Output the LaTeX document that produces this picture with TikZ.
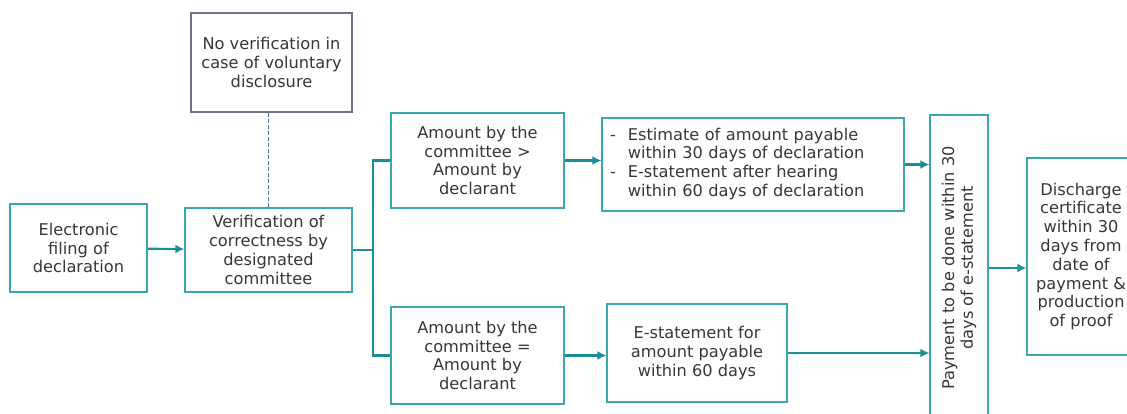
\documentclass[tikz,border=0pt]{standalone}
\usepackage{fontspec}
\setmainfont{DejaVu Sans}
\usetikzlibrary{arrows.meta,calc}
\definecolor{BoxClr}{RGB}{58,166,174}
\definecolor{LinkClr}{RGB}{26,143,154}
\definecolor{NoteClr}{RGB}{107,117,133}
\definecolor{DashClr}{RGB}{70,125,140}
\definecolor{TxtClr}{RGB}{55,55,55}

\begin{document}
\begin{tikzpicture}[x=1pt,y=-1pt,
  box/.style={draw=BoxClr,line width=1.2pt,fill=white,align=center,
    text=TxtClr,inner sep=3pt,font=\fontsize{16.2}{18.8}\selectfont},
  note/.style={box,draw=NoteClr},
  link/.style={draw=LinkClr,line width=2.2pt},
  arr/.style={link,-{Latex[length=9pt,width=9pt]}}]
\useasboundingbox (0,0) rectangle (1127,413);
\clip (0,0) rectangle (1127,413);

\node[box,minimum width=137pt,minimum height=88pt] (filing) at (78.5,248)
  {Electronic\\filing of\\declaration};
\node[box,minimum width=167pt,minimum height=84pt] (verify) at (268.5,250)
  {Verification of\\correctness by\\designated\\committee};
\node[note,minimum width=161pt,minimum height=99pt] (novf) at (271.5,62.5)
  {No verification in\\case of voluntary\\disclosure};
\node[box,minimum width=173pt,minimum height=95pt] (more) at (477.5,160.5)
  {Amount by the\\committee >\\Amount by\\declarant};
\node[box,minimum width=173pt,minimum height=97pt] (same) at (477.5,355.5)
  {Amount by the\\committee =\\Amount by\\declarant};
\node[box,align=left,text width=286pt,minimum height=93pt,inner xsep=8pt] (estim) at (753,164.5)
  {\noindent\begin{tabular}{@{}l@{\hspace{12pt}}l@{}}
   - & Estimate of amount payable\\
     & within 30 days of declaration\\
   - & E-statement after hearing\\
     & within 60 days of declaration
   \end{tabular}};
\node[box,minimum width=180pt,minimum height=98pt] (estmt) at (697,353)
  {E-statement for\\amount payable\\within 60 days};
\node[box,rotate=90,minimum width=306pt,minimum height=58pt] (pay) at (959,268)
  {Payment to be done within 30\\days of e-statement};
\node[box,minimum width=108pt,minimum height=197pt] (disch) at (1081,256.5)
  {Discharge\\certificate\\within 30\\days from\\date of\\payment \&\\production\\of proof};

\coordinate (split) at (373,250);

\draw[arr] (filing) -- (verify);
\draw[DashClr,line width=0.9pt,dash pattern=on 4pt off 2pt] (verify.north |- novf.south) -- (verify.north);
\draw[link] (verify.east) -- (split);
\draw[link] (more.west) -| (split) |- (same.west);
\draw[arr] (more.east) -- (more.east -| estim.west);
\draw[arr] (same.east) -- (same.east -| estmt.west);
\draw[arr] (estim.east) -- (estim.east -| pay.north);
\draw[arr] (estmt.east) -- (estmt.east -| pay.north);
\draw[arr] (pay.south) -- (pay.south -| disch.west);

\end{tikzpicture}
\end{document}
